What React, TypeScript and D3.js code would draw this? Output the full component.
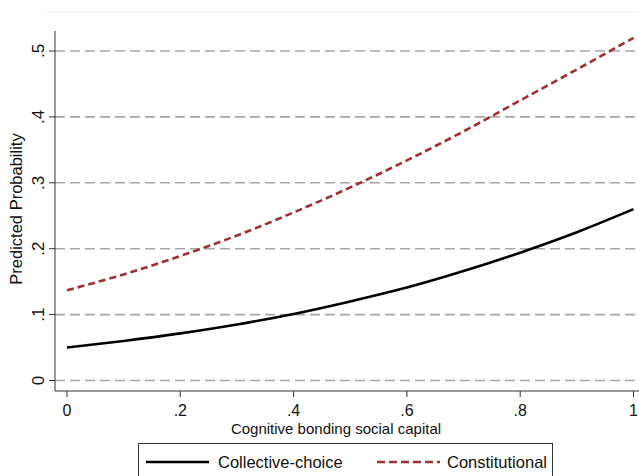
import React from "react";
import * as d3 from "d3";

const xValues = [0, 0.1, 0.2, 0.3, 0.4, 0.5, 0.6, 0.7, 0.8, 0.9, 1];
const collectiveChoice = [0.05, 0.06, 0.0715, 0.085, 0.101, 0.12, 0.141, 0.166, 0.194, 0.225, 0.26];
const constitutional = [0.137, 0.161, 0.189, 0.22, 0.255, 0.293, 0.334, 0.378, 0.425, 0.472, 0.52];
const xTicks = [0, 0.2, 0.4, 0.6, 0.8, 1];
const xTickLabels = ["0", ".2", ".4", ".6", ".8", "1"];
const yTicks = [0, 0.1, 0.2, 0.3, 0.4, 0.5];
const yTickLabels = ["0", ".1", ".2", ".3", ".4", ".5"];
const seriesNames = ["Collective-choice", "Constitutional"];

export default function App() {
  const W = 639, H = 476;
  const x = d3.scaleLinear().domain([0, 1]).range([67, 633.5]);
  const y = d3.scaleLinear().domain([0, 0.5]).range([380.5, 51]);
  const line = d3.line<number>().x((_, i) => x(xValues[i])).y((d) => y(d)).curve(d3.curveMonotoneX);
  const font = "'Liberation Sans', Arial, sans-serif";
  const red = "#9e2f33";
  return (
    <svg width={W} height={H} style={{ position: "absolute", left: 0, top: 0, background: "#fff" }} fontFamily={font}>
      <line x1={46} x2={639} y1={12} y2={12} stroke="#eef3f3" strokeWidth={1} />
      {yTicks.map((t) => (
        <line key={"g" + t} x1={55} x2={639} y1={y(t)} y2={y(t)} stroke="#a6a6a6" strokeWidth={1.6} strokeDasharray="10,5" />
      ))}
      <line x1={55} x2={55} y1={31} y2={391} stroke="#333" strokeWidth={1} />
      <line x1={55} x2={639} y1={391} y2={391} stroke="#333" strokeWidth={1} />
      {yTicks.map((t, i) => (
        <g key={"y" + t}>
          <line x1={49} x2={55} y1={y(t)} y2={y(t)} stroke="#333" strokeWidth={1} />
          <text transform={`translate(44,${y(t)}) rotate(-90)`} textAnchor="middle" fontSize={17} fill="#111">
            {yTickLabels[i]}
          </text>
        </g>
      ))}
      {xTicks.map((t, i) => (
        <g key={"x" + t}>
          <line x1={x(t)} x2={x(t)} y1={391} y2={397} stroke="#333" strokeWidth={1} />
          <text x={x(t)} y={416} textAnchor="middle" fontSize={16} fill="#111">
            {xTickLabels[i]}
          </text>
        </g>
      ))}
      <text x={336} y={434} textAnchor="middle" fontSize={15} fill="#111">Cognitive bonding social capital</text>
      <text transform="translate(22,209) rotate(-90)" textAnchor="middle" fontSize={16.5} fill="#111">Predicted Probability</text>
      <path d={line(collectiveChoice) || ""} fill="none" stroke="#000" strokeWidth={2.6} />
      <path d={line(constitutional) || ""} fill="none" stroke={red} strokeWidth={2.6} strokeDasharray="7,4" />
      <rect x={138.5} y={443.5} width={414} height={40} fill="#fff" stroke="#333" strokeWidth={1} />
      <line x1={146} x2={209} y1={462} y2={462} stroke="#000" strokeWidth={2.6} />
      <text x={218} y={468} fontSize={16.5} fill="#111">{seriesNames[0]}</text>
      <line x1={377} x2={440} y1={462} y2={462} stroke={red} strokeWidth={2.6} strokeDasharray="8,4" />
      <text x={447} y={468} fontSize={16.5} fill="#111">{seriesNames[1]}</text>
    </svg>
  );
}
